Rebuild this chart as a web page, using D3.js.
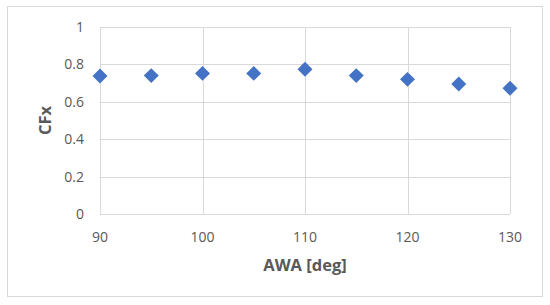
<!DOCTYPE html>
<html><head><meta charset="utf-8">
<script src="https://cdn.jsdelivr.net/npm/d3@7"></script>
<style>body{margin:0;background:#fff}svg{display:block}</style>
</head><body>
<script>
const awa = [90, 95, 100, 105, 110, 115, 120, 125, 130];
const cfx = [0.738, 0.740, 0.752, 0.752, 0.774, 0.740, 0.720, 0.695, 0.672];
const xTicks = [90, 100, 110, 120, 130];
const yTicks = [0, 0.2, 0.4, 0.6, 0.8, 1];

const W = 550, H = 305;
const svg = d3.select("body").append("svg").attr("width", W).attr("height", H);
svg.append("rect").attr("x", 7.5).attr("y", 6.5).attr("width", 535).attr("height", 290)
  .attr("fill", "#fff").attr("stroke", "#d9d9d9").attr("stroke-width", 1);

const x = d3.scaleLinear().domain([90, 130]).range([100, 510]);
const y = d3.scaleLinear().domain([0, 1]).range([214, 27]);
const font = "'Open Sans', 'Liberation Sans', sans-serif";

const g = svg.append("g");
g.selectAll(".hg").data(yTicks).enter().append("line")
  .attr("x1", x(90)).attr("x2", x(130))
  .attr("y1", d => Math.round(y(d)) + 0.5).attr("y2", d => Math.round(y(d)) + 0.5)
  .attr("stroke", "#d9d9d9").attr("stroke-width", 1);
g.selectAll(".vg").data(xTicks).enter().append("line")
  .attr("x1", d => Math.round(x(d)) + 0.5).attr("x2", d => Math.round(x(d)) + 0.5)
  .attr("y1", y(1)).attr("y2", y(0))
  .attr("stroke", "#d9d9d9").attr("stroke-width", 1);

g.selectAll(".yl").data(yTicks).enter().append("text")
  .attr("x", 84).attr("y", d => y(d)).attr("dy", "0.35em")
  .attr("text-anchor", "end").attr("font-family", font).attr("font-size", 14)
  .attr("fill", "#595959").text(d => d3.format("")(d));
g.selectAll(".xl").data(xTicks).enter().append("text")
  .attr("x", d => x(d)).attr("y", 242)
  .attr("text-anchor", "middle").attr("font-family", font).attr("font-size", 14)
  .attr("fill", "#595959").text(d => d);

svg.append("text").attr("x", x(110)).attr("y", 271).attr("text-anchor", "middle")
  .attr("font-family", font).attr("font-size", 16.5).attr("font-weight", "bold")
  .attr("fill", "#595959").text("AWA [deg]");
svg.append("text").attr("transform", `translate(51,${(y(0) + y(1)) / 2}) rotate(-90)`)
  .attr("text-anchor", "middle").attr("font-family", font).attr("font-size", 16.5)
  .attr("font-weight", "bold").attr("fill", "#595959").text("CFx");

const sym = d3.symbol().type(d3.symbolSquare).size(112);
svg.selectAll(".pt").data(awa).enter().append("path")
  .attr("d", sym)
  .attr("transform", (d, i) => `translate(${x(d)},${y(cfx[i])}) rotate(45)`)
  .attr("fill", "#4472c4");
</script>
</body></html>
